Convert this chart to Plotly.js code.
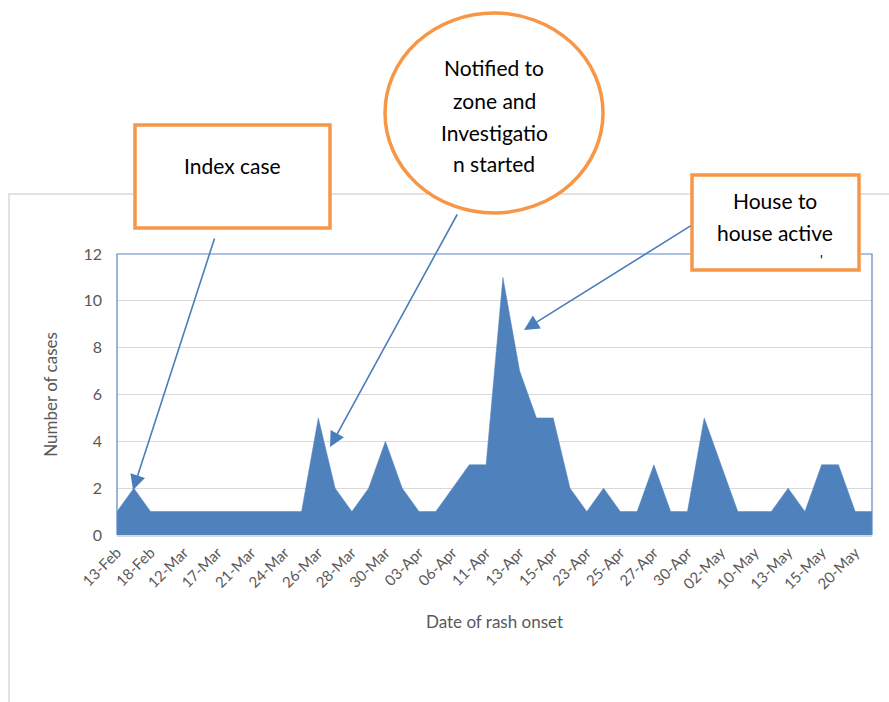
<!DOCTYPE html>
<html>
<head>
<meta charset="utf-8">
<script src="https://cdn.plot.ly/plotly-3.0.1.min.js"></script>
<style>html,body{margin:0;padding:0;background:#fff;}#chart{width:889px;height:702px;}</style>
</head>
<body>
<div id="chart"></div>
<script>
// Tick labels (every other date of rash onset is labelled)
const tickLabels = ["13-Feb","18-Feb","12-Mar","17-Mar","21-Mar","24-Mar","26-Mar","28-Mar","30-Mar","03-Apr","06-Apr","11-Apr","13-Apr","15-Apr","23-Apr","25-Apr","27-Apr","30-Apr","02-May","10-May","13-May","15-May","20-May"];
// Number of cases per onset date (46 dates)
const cases = [1,2,1,1,1,1,1,1,1,1,1,1,5,2,1,2,4,2,1,1,2,3,3,11,7,5,5,2,1,2,1,1,3,1,1,5,3,1,1,1,2,1,3,3,1,1];
const annotationTexts = {
  index: "Index case",
  notified: ["Notified to","zone and","Investigatio","n started"],
  house: ["House to","house active"]
};

const FONT = "Lato, 'Open Sans', sans-serif";
const xIdx = cases.map((_, i) => i);
const tickVals = tickLabels.map((_, i) => i * 2);

// pixel -> paper helpers (plot area spans 117..872 horizontally, 254..535 vertically)
const L = 117, R = 872, T = 254, B = 535;
const px = p => (p - L) / (R - L);
const py = p => (B - p) / (B - T);

const trace = {
  x: xIdx, y: cases, type: "scatter", mode: "lines",
  fill: "tozeroy", fillcolor: "#4f81bd",
  line: {color: "#4f81bd", width: 0.5},
  hoverinfo: "skip", showlegend: false
};

const orange = "#f79646";
const shapes = [
  // outer chart-area border
  {type: "rect", xref: "paper", yref: "paper", x0: px(9), x1: px(900), y0: py(720), y1: py(194),
   line: {color: "#d9d9d9", width: 1.5}, fillcolor: "rgba(0,0,0,0)", layer: "below"},
  // plot-area border (left, top, right)
  {type: "path", xref: "paper", yref: "paper",
   path: `M 0,0 L 0,1 L 1,1 L 1,0`, line: {color: "#5b87c0", width: 1.2}, layer: "above"},
  // bottom axis line
  {type: "line", xref: "paper", yref: "paper", x0: 0, x1: 1, y0: py(536), y1: py(536),
   line: {color: "#d9d9d9", width: 2.2}, layer: "above"},
  // Index case box
  {type: "rect", xref: "paper", yref: "paper", x0: px(135), x1: px(330), y0: py(228), y1: py(125),
   line: {color: orange, width: 3.5}, fillcolor: "#ffffff", layer: "above"},
  // Notified ellipse
  {type: "circle", xref: "paper", yref: "paper", x0: px(385), x1: px(603), y0: py(213), y1: py(13),
   line: {color: orange, width: 3.5}, fillcolor: "#ffffff", layer: "above"},
  // House to house box
  {type: "rect", xref: "paper", yref: "paper", x0: px(692), x1: px(859), y0: py(270), y1: py(175),
   line: {color: orange, width: 3.5}, fillcolor: "#ffffff", layer: "above"}
];

const arrowStyle = {showarrow: true, arrowhead: 2, arrowsize: 1.9, arrowwidth: 1.6,
  arrowcolor: "#4a7ebb", text: "", axref: "pixel", ayref: "pixel", standoff: 0};
const txt = (text, x, y, size) => ({text: text, xref: "paper", yref: "paper", x: px(x), y: py(y),
  xanchor: "center", yanchor: "middle", showarrow: false,
  font: {family: FONT, size: size, color: "#000000"}});

const annotations = [
  Object.assign({xref: "x", yref: "y", x: (133 - L) / ((R - L) / 45), y: (B - 490) / ((B - T) / 12), ax: 82, ay: -253}, arrowStyle),
  Object.assign({xref: "x", yref: "y", x: (330 - L) / ((R - L) / 45), y: (B - 447) / ((B - T) / 12), ax: 128, ay: -234}, arrowStyle),
  Object.assign({xref: "x", yref: "y", x: (524 - L) / ((R - L) / 45), y: (B - 330) / ((B - T) / 12), ax: 168, ay: -105}, arrowStyle),
  txt(annotationTexts.index, 232, 165, 21),
  txt(annotationTexts.notified[0], 494, 68, 21),
  txt(annotationTexts.notified[1], 494, 100, 21),
  txt(annotationTexts.notified[2], 494, 132, 21),
  txt(annotationTexts.notified[3], 494, 164, 21),
  txt(annotationTexts.house[0], 775, 200, 21),
  txt(annotationTexts.house[1], 775, 233, 21),
  txt("'", 821, 259, 14)
];

const layout = {
  width: 889, height: 702,
  margin: {l: L, r: 889 - R, t: T, b: 702 - B, pad: 0},
  paper_bgcolor: "#ffffff", plot_bgcolor: "#ffffff",
  font: {family: FONT, color: "#595959"},
  xaxis: {
    range: [0, cases.length - 1], tickmode: "array", tickvals: tickVals, ticktext: tickLabels,
    tickangle: -45, tickfont: {family: FONT, size: 15, color: "#595959"},
    showgrid: false, zeroline: false, showline: false, ticks: "", ticklabelstandoff: 5,
    title: {text: "Date of rash onset", font: {family: FONT, size: 17, color: "#595959"}, standoff: 24},
    fixedrange: true
  },
  yaxis: {
    range: [0, 12], dtick: 2, tick0: 0,
    tickfont: {family: FONT, size: 16, color: "#595959"},
    showgrid: true, gridcolor: "#d9d9d9", gridwidth: 1.2,
    zeroline: false, showline: false, ticks: "", ticklabelstandoff: 14,
    title: {text: "Number of cases", font: {family: FONT, size: 17, color: "#595959"}, standoff: 21},
    fixedrange: true
  },
  shapes: shapes,
  annotations: annotations,
  showlegend: false
};

Plotly.newPlot("chart", [trace], layout, {displayModeBar: false, staticPlot: true});
</script>
</body>
</html>
